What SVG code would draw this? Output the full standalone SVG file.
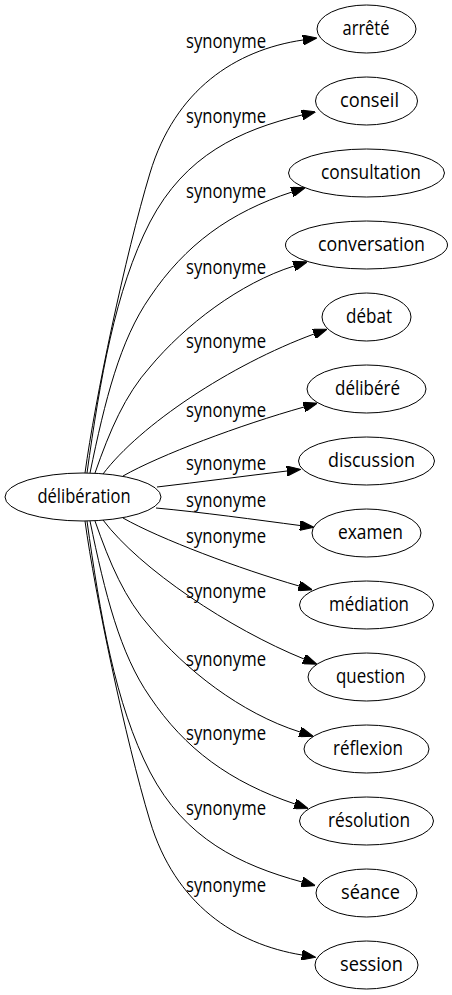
<svg xmlns="http://www.w3.org/2000/svg" width="452" height="995" viewBox="0 0 452 995">
<defs>
<style>
text{font-family:"Open Sans","Noto Sans","DejaVu Sans",sans-serif;font-size:19.5px;fill:#000}
.n text{text-anchor:middle}
.n ellipse{fill:none;stroke:#000;stroke-width:1}
.e path{fill:none;stroke:#000;stroke-width:1;marker-end:url(#ah)}
.e text{text-anchor:start}
</style>
<marker id="ah" markerUnits="userSpaceOnUse" markerWidth="14" markerHeight="10" viewBox="0 0 13 9.4" refX="0" refY="4.7" orient="auto">
<path d="M0,0 L13,4.7 L0,9.4 z" fill="#000" stroke="#000" stroke-width="1"/>
</marker>
</defs>
<rect width="452" height="995" fill="#fff"/>
<g id="connectors" class="e">
<g id="e1"><path d="M85,473 C95,400 125,256 150,173 C175,90 235,50 303,40"/><text x="186" y="48" textLength="80" lengthAdjust="spacingAndGlyphs">synonyme</text></g>
<g id="e2"><path d="M87,473 C100,380 115,290 150,222 C185,155 240,130 302,115"/><text x="186" y="123" textLength="80" lengthAdjust="spacingAndGlyphs">synonyme</text></g>
<g id="e3"><path d="M90,473 C105,400 120,340 150,297 C185,245 230,212 292,192"/><text x="186" y="198" textLength="80" lengthAdjust="spacingAndGlyphs">synonyme</text></g>
<g id="e4"><path d="M95,473 C110,430 125,395 150,367 C185,325 240,283 294,266"/><text x="186" y="274" textLength="80" lengthAdjust="spacingAndGlyphs">synonyme</text></g>
<g id="e5"><path d="M103,474 C140,425 230,365 314,334"/><text x="186" y="348" textLength="80" lengthAdjust="spacingAndGlyphs">synonyme</text></g>
<g id="e6"><path d="M123,476 C160,455 240,425 304,407"/><text x="186" y="417" textLength="80" lengthAdjust="spacingAndGlyphs">synonyme</text></g>
<g id="e7"><path d="M157,487 C200,482 245,476 287,471"/><text x="186" y="470" textLength="80" lengthAdjust="spacingAndGlyphs">synonyme</text></g>
<g id="e8"><path d="M156,508 C200,512 258,520 300,525.5"/><text x="186" y="507" textLength="80" lengthAdjust="spacingAndGlyphs">synonyme</text></g>
<g id="e9"><path d="M123,518 C160,539 240,569 299,586"/><text x="186" y="543" textLength="80" lengthAdjust="spacingAndGlyphs">synonyme</text></g>
<g id="e10"><path d="M103,520 C140,569 230,629 304,659"/><text x="186" y="598" textLength="80" lengthAdjust="spacingAndGlyphs">synonyme</text></g>
<g id="e11"><path d="M95,521 C110,564 125,599 150,627 C185,669 240,713 300,732"/><text x="186" y="666" textLength="80" lengthAdjust="spacingAndGlyphs">synonyme</text></g>
<g id="e12"><path d="M90,521 C105,594 120,654 150,697 C185,749 230,782 295,804"/><text x="186" y="740" textLength="80" lengthAdjust="spacingAndGlyphs">synonyme</text></g>
<g id="e13"><path d="M87,521 C100,614 115,704 150,772 C185,839 240,865 302,882"/><text x="186" y="815" textLength="80" lengthAdjust="spacingAndGlyphs">synonyme</text></g>
<g id="e14"><path d="M85,521 C95,594 125,738 150,821 C175,904 235,944 302,955"/><text x="186" y="892" textLength="80" lengthAdjust="spacingAndGlyphs">synonyme</text></g>
</g>
<g id="deliberation" class="n"><ellipse cx="83" cy="497" rx="78" ry="24"/><text x="84" y="502.5" textLength="93" lengthAdjust="spacingAndGlyphs">délibération</text></g>
<g id="arrete" class="n"><ellipse cx="366.5" cy="29" rx="49.5" ry="24"/><text x="366" y="34.5" textLength="47" lengthAdjust="spacingAndGlyphs">arrêté</text></g>
<g id="conseil" class="n"><ellipse cx="366.5" cy="101" rx="51" ry="24"/><text x="369.5" y="106.5" textLength="59" lengthAdjust="spacingAndGlyphs">conseil</text></g>
<g id="consultation" class="n"><ellipse cx="366.5" cy="173" rx="78" ry="24"/><text x="371" y="178.5" textLength="100" lengthAdjust="spacingAndGlyphs">consultation</text></g>
<g id="conversation" class="n"><ellipse cx="366.5" cy="245" rx="81" ry="24"/><text x="371.5" y="250.5" textLength="107" lengthAdjust="spacingAndGlyphs">conversation</text></g>
<g id="debat" class="n"><ellipse cx="366.5" cy="317" rx="44.5" ry="24"/><text x="369" y="322.5" textLength="46" lengthAdjust="spacingAndGlyphs">débat</text></g>
<g id="delibere" class="n"><ellipse cx="366.5" cy="389" rx="59.5" ry="24"/><text x="367.5" y="394.5" textLength="65" lengthAdjust="spacingAndGlyphs">délibéré</text></g>
<g id="discussion" class="n"><ellipse cx="366.5" cy="461" rx="68" ry="24"/><text x="371.5" y="466.5" textLength="87" lengthAdjust="spacingAndGlyphs">discussion</text></g>
<g id="examen" class="n"><ellipse cx="366.5" cy="533" rx="54.5" ry="24"/><text x="370.5" y="538.5" textLength="65" lengthAdjust="spacingAndGlyphs">examen</text></g>
<g id="mediation" class="n"><ellipse cx="366.5" cy="605" rx="67" ry="24"/><text x="369" y="610.5" textLength="80" lengthAdjust="spacingAndGlyphs">médiation</text></g>
<g id="question" class="n"><ellipse cx="366.5" cy="677" rx="58.5" ry="24"/><text x="370.5" y="682.5" textLength="69" lengthAdjust="spacingAndGlyphs">question</text></g>
<g id="reflexion" class="n"><ellipse cx="366.5" cy="749" rx="62.5" ry="24"/><text x="368" y="754.5" textLength="70" lengthAdjust="spacingAndGlyphs">réflexion</text></g>
<g id="resolution" class="n"><ellipse cx="366.5" cy="821" rx="67" ry="24"/><text x="369" y="826.5" textLength="82" lengthAdjust="spacingAndGlyphs">résolution</text></g>
<g id="seance" class="n"><ellipse cx="366.5" cy="893" rx="50.5" ry="24"/><text x="370.5" y="898.5" textLength="59" lengthAdjust="spacingAndGlyphs">séance</text></g>
<g id="session" class="n"><ellipse cx="366.5" cy="965" rx="51.5" ry="24"/><text x="371.5" y="970.5" textLength="63" lengthAdjust="spacingAndGlyphs">session</text></g>
</svg>
